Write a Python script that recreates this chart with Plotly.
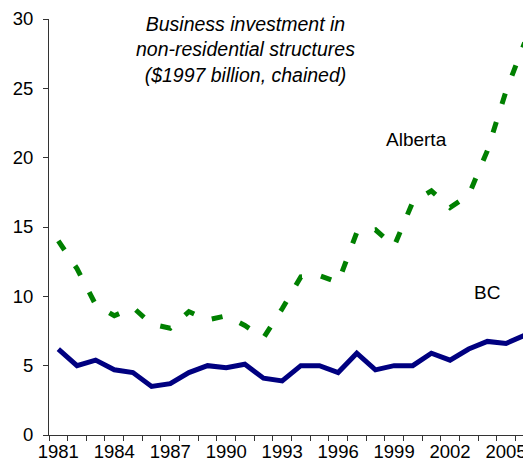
import plotly.graph_objects as go

years = list(range(1981, 2007))
alberta = [14.0, 12.0, 9.4, 8.6, 9.2, 8.0, 7.7, 8.9, 8.3, 8.6, 7.9, 7.0, 9.1,
           11.4, 11.5, 11.0, 14.6, 14.8, 13.6, 16.8, 17.6, 16.4, 17.3, 20.5, 24.8, 28.3]
bc = [6.2, 5.0, 5.4, 4.7, 4.5, 3.5, 3.7, 4.5, 5.0, 4.85, 5.1, 4.1, 3.9,
      5.0, 5.0, 4.5, 5.9, 4.7, 5.0, 5.0, 5.9, 5.4, 6.2, 6.75, 6.6, 7.2]
label_years = list(range(1981, 2007, 3))

fig = go.Figure()
fig.add_trace(go.Scatter(x=years, y=alberta, mode='lines', name='Alberta',
                         line=dict(color='#008000', width=5, dash='11px,19px')))
fig.add_trace(go.Scatter(x=years, y=bc, mode='lines', name='BC',
                         line=dict(color='#000080', width=5)))

tick_font = dict(family='Liberation Sans, Arial', size=18.5, color='black')
text_font = dict(family='Liberation Sans, Arial', size=19, color='black')

# italic note at top of the plot
fig.add_annotation(x=0.407, y=1.02, xref='paper', yref='paper', yanchor='top',
                   text='<i>Business investment in</i><br><i>non-residential structures</i><br>'
                        '<i>($1997 billion, chained)</i>',
                   showarrow=False, font=dict(family='Liberation Sans, Arial', size=19.5, color='black'),
                   align='center')
fig.add_annotation(x=2000.2, y=21.3, xref='x', yref='y', text='Alberta', showarrow=False,
                   font=text_font)
fig.add_annotation(x=2004.0, y=10.25, xref='x', yref='y', text='BC', showarrow=False,
                   font=text_font)

# page body keeps an 8px margin, so the figure is sized to fit the window
fig.update_layout(
    width=523, height=454,
    margin=dict(l=41, r=0, t=8, b=26),
    paper_bgcolor='white', plot_bgcolor='white',
    showlegend=False,
    xaxis=dict(range=[1980.5, 2006.34], tickvals=label_years, ticks='', showgrid=False,
               zeroline=False, showline=True, linecolor='#333333', linewidth=1,
               tickfont=tick_font, ticklabelstandoff=0, ticklabeloverflow='allow',
               minor=dict(tick0=1980.5, dtick=1, ticks='outside', ticklen=5,
                          tickcolor='#333333', showgrid=False)),
    yaxis=dict(range=[0, 30], tickvals=[0, 5, 10, 15, 20, 25, 30], ticks='outside', ticklen=5,
               tickcolor='#333333', showgrid=False, zeroline=False, showline=True,
               linecolor='#333333', linewidth=1, tickfont=tick_font, ticklabelstandoff=6,
               ticklabeloverflow='allow'),
)
fig.write_html("out.html")
